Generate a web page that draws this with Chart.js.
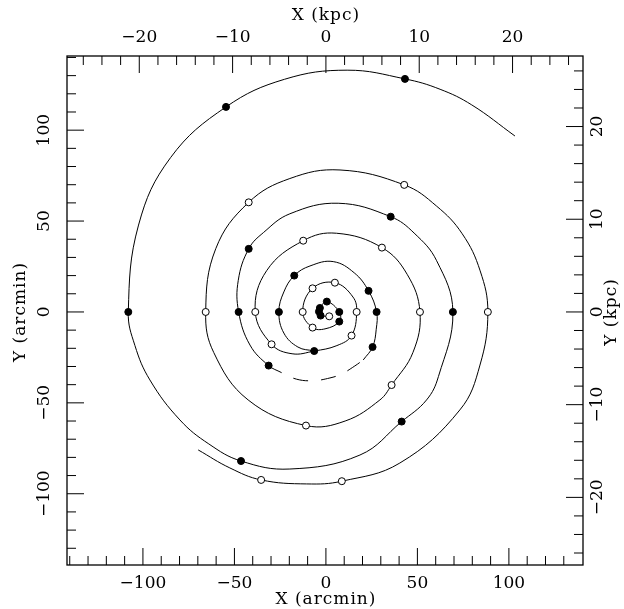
<!DOCTYPE html>
<html>
<head>
<meta charset="utf-8">
<script src="https://cdn.jsdelivr.net/npm/chart.js@4.4.1/dist/chart.umd.min.js"></script>
<style>
  html, body { margin: 0; padding: 0; background: #fff; }
  #wrap { width: 624px; height: 609px; }
</style>
</head>
<body>
<div id="wrap"><canvas id="spiral"></canvas></div>
<script>
// all positions in arcmin
const ARCMIN_PER_KPC = 5.1;

// arm through the filled points, outer end at upper right
const armFilled = [[103.3,96.8],[79.7,113.9],[62.4,122.5],[43.2,128.2],[11.6,133.0],[-22.6,128.0],[-54.6,112.8],
  [-84.9,84.9],[-102.4,47.8],[-108.0,0],[-104.4,-18.4],[-96.2,-37.4],[-79.8,-59.4],[-64.0,-72.6],[-46.4,-82.0],
  [-19.7,-86.4],[18.6,-78.7],[41.4,-60.3],[55.0,-48.4],[61.5,-35.5],[69.4,0],[60.5,28.2],[48.2,43.4],[35.4,52.4],
  [6.7,59.8],[-19.7,54.0],[-34.1,43.7],[-42.2,34.7],[-47.9,17.4],[-47.7,0],[-41.5,-18.2],[-31.3,-29.5],[-24.2,-33.4]];
const armFilledDashed = [[-24.2,-33.4],[-16.0,-37.0],[-6.9,-37.8],[2.2,-36.3],[8.6,-34.1],[15.8,-29.7],[20.4,-26.4]];
const armFilledInner = [[20.4,-26.4],[25.5,-19.3],[27.5,-9.5],[27.7,0],[23.3,11.6],[15.5,21.5],[4.0,27.7],
  [-8.7,25.3],[-17.3,20.0],[-23.0,11.0],[-25.7,0],[-23.0,-11.6],[-15.3,-19.3],[-6.4,-21.5]];

// arm through the open points, outer end at lower left
const armOpen = [[-69.8,-75.9],[-52.5,-85.8],[-35.4,-92.4],[-10.5,-94.6],[8.7,-93.1],[40.4,-83.1],[73.2,-53.9],
  [84.2,-29.2],[88.5,0],[84.3,22.6],[74.5,43.0],[60.4,58.3],[42.8,69.9],[7.7,78.1],[-19.7,73.4],[-42.2,60.3],
  [-60.2,34.8],[-65.7,0],[-61.3,-22.3],[-42.5,-48.4],[-10.9,-62.5],[10.5,-60.0],[29.5,-48.4],[35.9,-40.2],
  [47.6,-22.2],[51.4,0],[44.4,20.7],[30.6,35.4],[5.8,43.3],[-12.4,39.2],[-32.4,22.7],[-38.6,0],[-29.7,-17.8],
  [-18.5,-23.0],[-6.4,-21.5],[6.0,-18.5],[14.0,-13.0],[16.8,0],[14.8,8.2],[4.9,16.1],[-7.3,13.0],[-12.7,0],
  [-7.3,-8.6],[-0.5,-9.3],[7.3,-5.3],[7.3,0],[0.5,5.7],[-3.3,2.2],[-3.8,0.2],[-2.9,-2.0],[1.8,-2.4]];

const filledPts = [[43.2,128.2],[-54.6,112.8],[-108.0,0],[-46.4,-82.0],[41.4,-60.3],[69.4,0],[35.4,52.4],
  [-42.2,34.7],[-47.7,0],[-31.3,-29.5],[25.5,-19.3],[27.7,0],[23.3,11.6],[-17.3,20.0],[-25.7,0],[-6.4,-21.5],
  [7.3,-5.3],[7.3,0],[0.5,5.7],[-3.3,2.2],[-3.8,0.2],[-2.9,-2.0]];
const openPts = [[88.5,0],[42.8,69.9],[-42.2,60.3],[-65.7,0],[-35.4,-92.4],[8.7,-93.1],[-10.9,-62.5],
  [35.9,-40.2],[51.4,0],[30.6,35.4],[-12.4,39.2],[-38.6,0],[-29.7,-17.8],[14.0,-13.0],[16.8,0],[4.9,16.1],
  [-7.3,13.0],[-12.7,0],[-7.3,-8.6],[1.8,-2.4]];

const arcminLabels = [-100, -50, 0, 50, 100];
const kpcLabels = [-20, -10, 0, 10, 20];

const toXY = p => ({ x: p[0], y: p[1] });
const fmt = v => (v < 0 ? "\u2212" + Math.abs(v) : String(v));

function lineSet(pts, dash) {
  return {
    data: pts.map(toXY), showLine: true, pointRadius: 0, borderColor: "#000",
    borderWidth: 1, tension: 0.4, fill: false, borderDash: dash || [], borderDashOffset: dash ? 15 : 0, order: 2
  };
}

const axesPlugin = {
  id: "axesPlugin",
  afterDraw(chart) {
    const ctx = chart.ctx, a = chart.chartArea;
    const sx = chart.scales.x, sy = chart.scales.y, sxk = chart.scales.xk, syk = chart.scales.yk;
    ctx.save();
    ctx.strokeStyle = "#000";
    ctx.fillStyle = "#000";
    ctx.lineWidth = 1.3;
    ctx.strokeRect(a.left, a.top, a.right - a.left, a.bottom - a.top);
    ctx.lineWidth = 1;
    const major = 17, minor = 9;
    ctx.beginPath();
    for (let v = -140; v <= 140; v += 10) {
      const len = v % 50 === 0 ? major : minor;
      const px = sx.getPixelForValue(v);
      if (px > a.left + 1 && px < a.right - 1) { ctx.moveTo(px, a.bottom); ctx.lineTo(px, a.bottom - len); }
      const py = sy.getPixelForValue(v);
      if (py > a.top + 1 && py < a.bottom - 1) { ctx.moveTo(a.left, py); ctx.lineTo(a.left + len, py); }
    }
    for (let v = -28; v <= 28; v += 2) {
      const len = v % 10 === 0 ? major : minor;
      const px = sxk.getPixelForValue(v);
      if (px > a.left + 1 && px < a.right - 1) { ctx.moveTo(px, a.top); ctx.lineTo(px, a.top + len); }
      const py = syk.getPixelForValue(v);
      if (py > a.top + 1 && py < a.bottom - 1) { ctx.moveTo(a.right, py); ctx.lineTo(a.right - len, py); }
    }
    ctx.stroke();

    ctx.font = "17px 'DejaVu Serif'";
    ctx.textAlign = "center";
    ctx.textBaseline = "middle";
    arcminLabels.forEach(v => ctx.fillText(fmt(v), sx.getPixelForValue(v), 584));
    kpcLabels.forEach(v => ctx.fillText(fmt(v), sxk.getPixelForValue(v), 38));
    const vtext = (t, x, y) => { ctx.save(); ctx.translate(x, y); ctx.rotate(-Math.PI / 2); ctx.fillText(t, 0, 0); ctx.restore(); };
    arcminLabels.forEach(v => vtext(fmt(v), 45, sy.getPixelForValue(v)));
    kpcLabels.forEach(v => vtext(fmt(v), 598, syk.getPixelForValue(v)));
    ctx.letterSpacing = "1px";
    ctx.fillText("X (arcmin)", sx.getPixelForValue(0), 600);
    ctx.fillText("X (kpc)", sxk.getPixelForValue(0), 16);
    vtext("Y (arcmin)", 21, sy.getPixelForValue(0));
    vtext("Y (kpc)", 612, syk.getPixelForValue(0));
    ctx.restore();
  }
};

new Chart(document.getElementById("spiral"), {
  type: "scatter",
  data: {
    datasets: [
      { data: filledPts.map(toXY), pointRadius: 3.5, pointBackgroundColor: "#000", pointBorderColor: "#000", pointBorderWidth: 1, order: 0 },
      { data: openPts.map(toXY), pointRadius: 3.5, pointBackgroundColor: "#fff", pointBorderColor: "#000", pointBorderWidth: 1, order: 1 },
      lineSet(armFilled),
      lineSet(armFilledDashed, [15, 13]),
      lineSet(armFilledInner),
      lineSet(armOpen)
    ]
  },
  options: {
    responsive: true,
    maintainAspectRatio: false,
    animation: false,
    events: [],
    layout: { padding: { left: 67, top: 56, right: 41, bottom: 44 } },
    plugins: { legend: { display: false }, tooltip: { enabled: false } },
    scales: {
      x: { type: "linear", display: false, min: -141.5, max: 140.5 },
      y: { type: "linear", display: false, min: -139.2, max: 140.8 },
      xk: { type: "linear", axis: "x", position: "top", display: false, min: -141.5 / ARCMIN_PER_KPC, max: 140.5 / ARCMIN_PER_KPC },
      yk: { type: "linear", axis: "y", position: "right", display: false, min: -139.2 / ARCMIN_PER_KPC, max: 140.8 / ARCMIN_PER_KPC }
    }
  },
  plugins: [axesPlugin]
});
</script>
</body>
</html>
